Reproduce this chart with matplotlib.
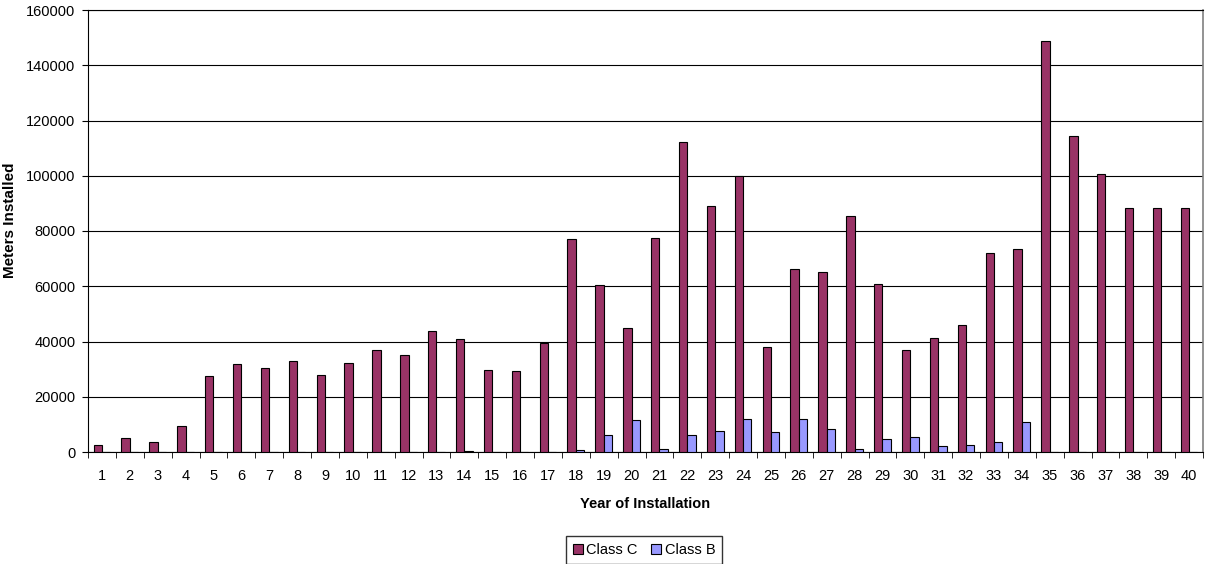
import numpy as np
import matplotlib.pyplot as plt

plt.rcParams['font.family'] = ['Liberation Sans', 'DejaVu Sans']

# Data ---------------------------------------------------------------------------------------------
years = [str(i) for i in range(1, 41)]
class_c = [2400, 5000, 3600, 9300, 27500, 32000, 30500, 33000, 28000, 32300,
           37000, 35000, 43800, 41000, 29800, 29400, 39400, 77000, 60500, 45000,
           77300, 112200, 89000, 100000, 38000, 66300, 65000, 85500, 60800, 37000,
           41300, 45800, 72000, 73500, 148800, 114500, 100500, 88200, 88200, 88200]
class_b = [0, 0, 0, 0, 0, 0, 0, 0, 0, 0,
           0, 0, 0, 300, 0, 0, 0, 600, 6000, 11500,
           1100, 6000, 7500, 11800, 7100, 11900, 8300, 1000, 4700, 5400,
           2200, 2600, 3800, 10800, 0, 0, 0, 0, 0, 0]

# Plot ---------------------------------------------------------------------------------------------
fig = plt.figure(figsize=(12.05, 5.64), dpi=100)
ax  = fig.add_axes([88/1205, 1 - 452/564, (1203 - 88)/1205, (452 - 10)/564])

x = np.arange(len(years))
w = 0.3
ax.bar(x - w/2, class_c, w, color='#993366', edgecolor='black', linewidth=0.8, label='Class C', zorder=3)
ax.bar(x + w/2, class_b, w, color='#9999FF', edgecolor='black', linewidth=0.8, label='Class B', zorder=3)

ax.set_xlim(-0.5, len(years) - 0.5)
ax.set_ylim(0, 160000)
ax.set_yticks(np.arange(0, 160001, 20000))
ax.set_xticks(x)
ax.set_xticklabels(years)
ax.set_xticks(np.arange(-0.5, len(years), 1), minor=True)
ax.tick_params(axis='x', which='major', length=0, labelsize=10.5, pad=12)
ax.tick_params(axis='x', which='minor', length=4, direction='out')
ax.tick_params(axis='y', length=4, direction='out', labelsize=10.5, pad=5)

ax.yaxis.grid(True, color='black', linewidth=0.8, zorder=0)
ax.spines['top'].set_linewidth(0.8)
ax.spines['right'].set_color('#808080')
ax.spines['right'].set_linewidth(1.2)
ax.spines['left'].set_linewidth(0.8)
ax.spines['bottom'].set_linewidth(0.8)

ax.set_xlabel('Year of Installation', fontsize=10.5, fontweight='bold', labelpad=10)
ax.set_ylabel('Meters Installed', fontsize=11, fontweight='bold')
ax.yaxis.set_label_coords((17 - 88)/1115, (452 - 220)/442)

fig.legend(loc='center', bbox_to_anchor=(644/1205, 1 - 550/564), ncol=2, fontsize=10.5, frameon=True,
           fancybox=False, edgecolor='black', handlelength=0.7, handleheight=0.7,
           handletextpad=0.25, columnspacing=0.9, borderpad=0.45)

fig.savefig('out.png', dpi=100)
